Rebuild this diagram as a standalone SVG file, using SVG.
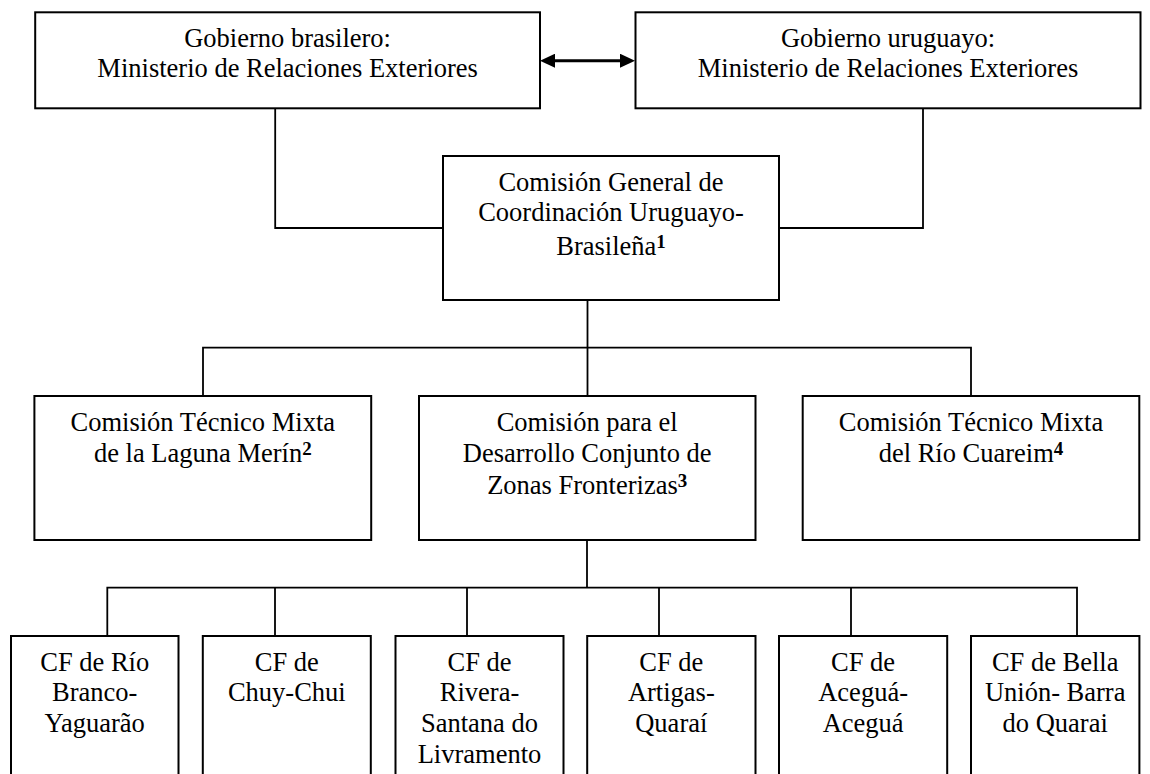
<svg xmlns="http://www.w3.org/2000/svg" width="1150" height="774" viewBox="0 0 1150 774">
<style>
.box{fill:#fff;stroke:#000;stroke-width:2}
.t{font-family:"Liberation Serif","Times New Roman",serif;font-size:26.5px;fill:#000;text-anchor:middle}
.sup{font-size:19px;font-weight:bold}
.c{fill:none;stroke:#000;stroke-width:1.8}
.arr{fill:none;stroke:#000;stroke-width:3}
</style>
<defs>
<marker id="ah" markerUnits="userSpaceOnUse" markerWidth="15" markerHeight="14" refX="10" refY="7" orient="auto-start-reverse">
<path d="M0,0 L15,7 L0,14 z" fill="#000"/>
</marker>
</defs>
<rect width="1150" height="774" fill="#fff"/>
<g id="connectors">
<path class="arr" d="M545,60.7 H630" marker-start="url(#ah)" marker-end="url(#ah)"/>
<path class="c" d="M275.2,108 V228 H443"/>
<path class="c" d="M923,108 V228 H779"/>
<path class="c" d="M587.5,300 V396"/>
<path class="c" d="M203,396 V347.7 H971 V396"/>
<path class="c" d="M587,540 V587.7"/>
<path class="c" d="M107.3,636 V587.7 H1077 V636"/>
<path class="c" d="M275,587.7 V636 M467,587.7 V636 M659,587.7 V636 M851,587.7 V636"/>
</g>
<g id="gob-br">
<rect class="box" x="35.2" y="12.3" width="504.8" height="96"/>
<text class="t" x="287.6" y="46.7">Gobierno brasilero:</text>
<text class="t" x="287.6" y="77.3">Ministerio de Relaciones Exteriores</text>
</g>
<g id="gob-uy">
<rect class="box" x="635.5" y="12.3" width="505" height="96"/>
<text class="t" x="888" y="46.7">Gobierno uruguayo:</text>
<text class="t" x="888" y="77.3">Ministerio de Relaciones Exteriores</text>
</g>
<g id="cgc">
<rect class="box" x="443" y="156" width="336" height="144"/>
<text class="t" x="611" y="190.7">Comisión General de</text>
<text class="t" x="611" y="221.3">Coordinación Uruguayo-</text>
<text class="t" x="611" y="254.5">Brasileña<tspan class="sup" dy="-7">1</tspan></text>
</g>
<g id="ctm-laguna">
<rect class="box" x="34.4" y="396" width="336.8" height="144"/>
<text class="t" x="202.8" y="431">Comisión Técnico Mixta</text>
<text class="t" x="202.8" y="462">de la Laguna Merín<tspan class="sup" dy="-7">2</tspan></text>
</g>
<g id="cdczf">
<rect class="box" x="419" y="396" width="336.5" height="144"/>
<text class="t" x="587.2" y="431">Comisión para el</text>
<text class="t" x="587.2" y="461.7">Desarrollo Conjunto de</text>
<text class="t" x="587.2" y="493.5">Zonas Fronterizas<tspan class="sup" dy="-7">3</tspan></text>
</g>
<g id="ctm-cuareim">
<rect class="box" x="802.7" y="396" width="336.6" height="144"/>
<text class="t" x="971" y="431">Comisión Técnico Mixta</text>
<text class="t" x="971" y="462">del Río Cuareim<tspan class="sup" dy="-7">4</tspan></text>
</g>
<g id="cf1">
<rect class="box" x="11" y="636" width="167.5" height="160"/>
<text class="t" x="94.7" y="670.7">CF de Río</text>
<text class="t" x="94.7" y="701.4">Branco-</text>
<text class="t" x="94.7" y="732.1">Yaguarão</text>
</g>
<g id="cf2">
<rect class="box" x="202.8" y="636" width="168" height="160"/>
<text class="t" x="286.8" y="670.7">CF de</text>
<text class="t" x="286.8" y="701.4">Chuy-Chui</text>
</g>
<g id="cf3">
<rect class="box" x="395.5" y="636" width="168" height="160"/>
<text class="t" x="479.5" y="670.7">CF de</text>
<text class="t" x="479.5" y="701.4">Rivera-</text>
<text class="t" x="479.5" y="732.1">Santana do</text>
<text class="t" x="479.5" y="762.8">Livramento</text>
</g>
<g id="cf4">
<rect class="box" x="587.2" y="636" width="168.3" height="160"/>
<text class="t" x="671.3" y="670.7">CF de</text>
<text class="t" x="671.3" y="701.4">Artigas-</text>
<text class="t" x="671.3" y="732.1">Quaraí</text>
</g>
<g id="cf5">
<rect class="box" x="779" y="636" width="168.2" height="160"/>
<text class="t" x="863.1" y="670.7">CF de</text>
<text class="t" x="863.1" y="701.4">Aceguá-</text>
<text class="t" x="863.1" y="732.1">Aceguá</text>
</g>
<g id="cf6">
<rect class="box" x="971" y="636" width="168.4" height="160"/>
<text class="t" x="1055.2" y="670.7">CF de Bella</text>
<text class="t" x="1055.2" y="701.4">Unión- Barra</text>
<text class="t" x="1055.2" y="732.1">do Quarai</text>
</g>
</svg>
